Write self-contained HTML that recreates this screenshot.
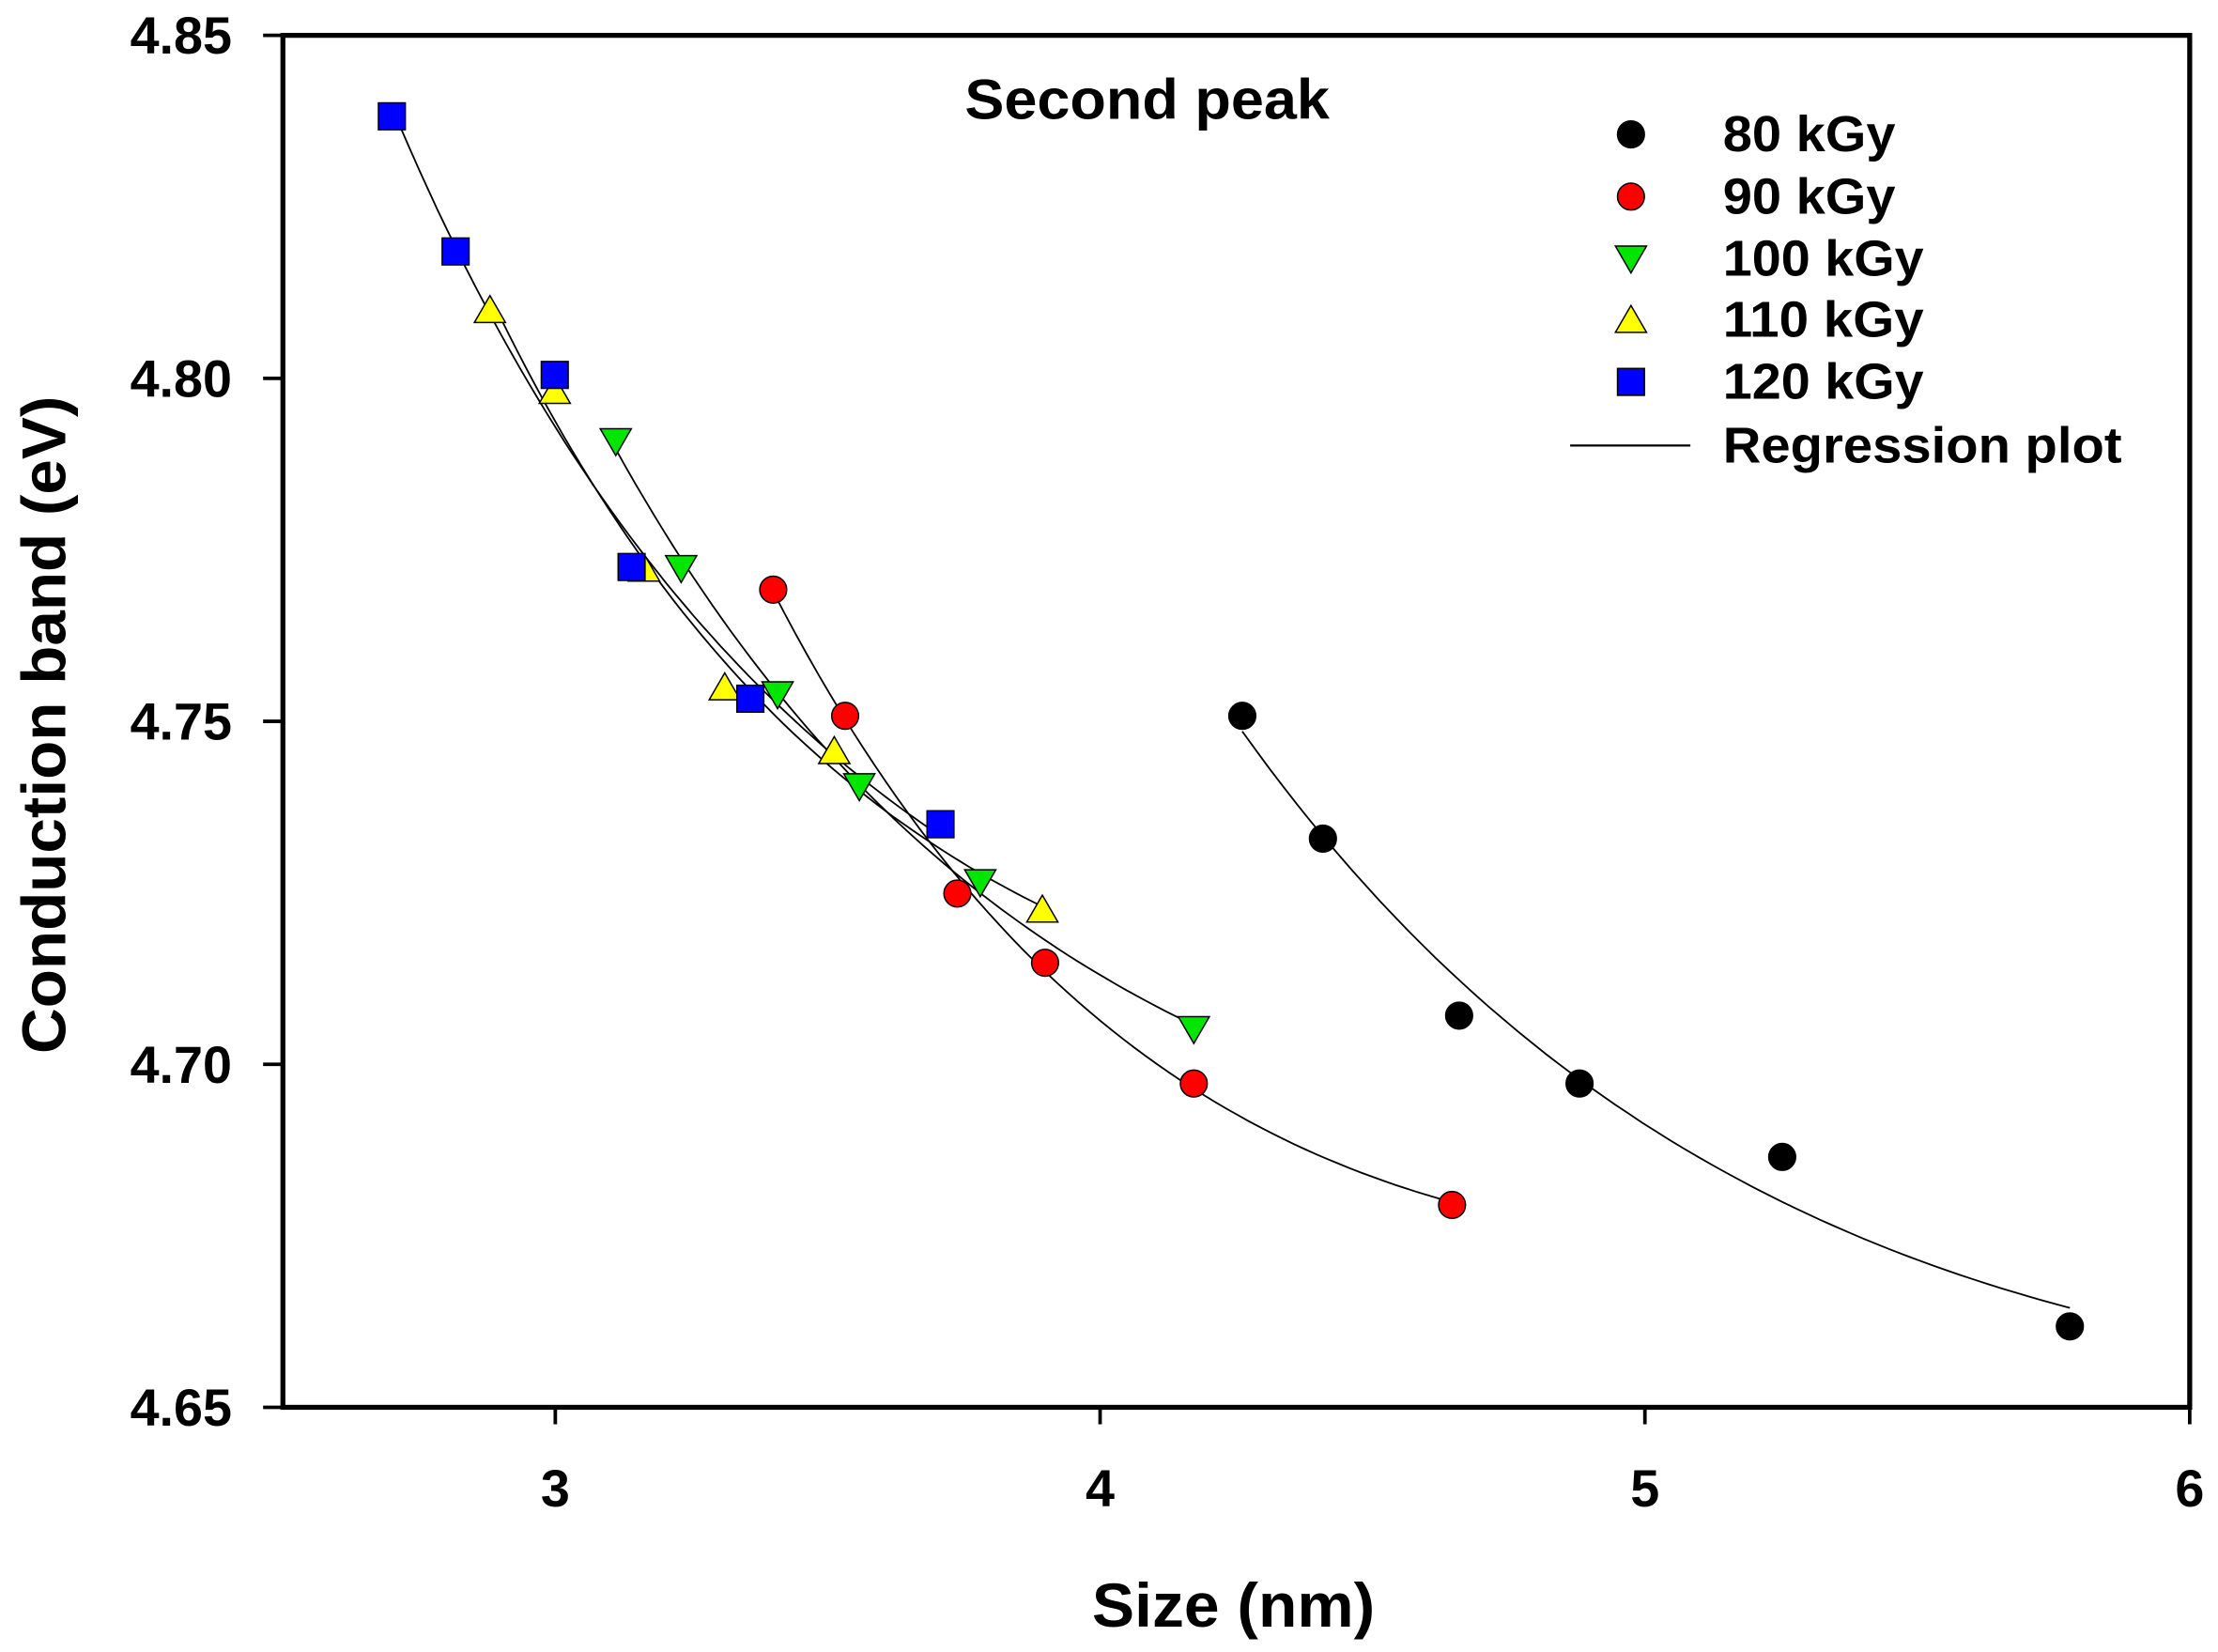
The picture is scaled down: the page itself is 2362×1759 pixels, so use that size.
<!DOCTYPE html>
<html><head><meta charset="utf-8"><style>
html,body{margin:0;padding:0;background:#fff;}
svg{display:block;font-family:"Liberation Sans",Arial,sans-serif;font-weight:bold;}
</style></head><body>
<svg id="chart" width="2362" height="1759" viewBox="0 0 1568 1168" preserveAspectRatio="none" xmlns="http://www.w3.org/2000/svg">
<g id="axes"></g>
<g id="curves"></g>
<g id="marks"></g>
<text x="682" y="84" font-size="40" textLength="258" lengthAdjust="spacingAndGlyphs">Second peak</text>
<text x="772" y="1150" font-size="44" textLength="200" lengthAdjust="spacingAndGlyphs">Size (nm)</text>
<text transform="translate(46,745) rotate(-90)" font-size="44" textLength="465" lengthAdjust="spacingAndGlyphs">Conduction band (eV)</text>
<g id="legend"></g>
</svg>
<script>
const xTicks=[3,4,5,6];
const yTicks=[4.65,4.70,4.75,4.80,4.85];
const seriesNames=["80 kGy","90 kGy","100 kGy","110 kGy","120 kGy"];
const x80=[4.261,4.409,4.659,4.880,5.252,5.780];
const y80=[4.7508,4.7329,4.7071,4.6972,4.6865,4.6618];
const x90=[3.400,3.532,3.738,3.899,4.172,4.646];
const y90=[4.7692,4.7508,4.7249,4.7148,4.6972,4.6795];
const x100=[3.111,3.231,3.408,3.558,3.780,4.172];
const y100=[4.7908,4.7723,4.7539,4.7405,4.7265,4.7051];
const x110=[2.880,2.999,3.163,3.311,3.512,3.894];
const y110=[4.8100,4.7982,4.7723,4.7550,4.7457,4.7226];
const x120=[2.700,2.817,2.999,3.140,3.358,3.707];
const y120=[4.8382,4.8185,4.8005,4.7725,4.7533,4.7350];

const NS="http://www.w3.org/2000/svg";
const L=200,R=1548,T=25,B=995,X0=2.5,X1=6,Y0=4.65,Y1=4.85;
const sx=v=>L+(v-X0)/(X1-X0)*(R-L);
const sy=v=>B-(v-Y0)/(Y1-Y0)*(B-T);
function mk(tag,attrs,parent){const e=document.createElementNS(NS,tag);for(const k in attrs)e.setAttribute(k,attrs[k]);parent.appendChild(e);return e;}
const axes=document.getElementById('axes');
let frame=mk('rect',{x:L,y:T,width:R-L,height:B-T,fill:'none',stroke:'#000','stroke-width':3.5},axes);


xTicks.forEach(t=>{
  let l=mk('line',{x1:sx(t),x2:sx(t),y1:B,y2:B+12,stroke:'#000','stroke-width':2.5},axes);
  
  
  let tx=mk('text',{x:sx(t),y:B+70,'font-size':37,'text-anchor':'middle'},axes);tx.textContent=t;
  
  
});
yTicks.forEach(t=>{
  let l=mk('line',{x1:L-14,x2:L,y1:sy(t),y2:sy(t),stroke:'#000','stroke-width':2.5},axes);
  
  
  let tx=mk('text',{x:164,y:sy(t)+13,'font-size':37,'text-anchor':'end'},axes);tx.textContent=t.toFixed(2);
  
  
});
const series=[[x80,y80,'circle','#000'],[x90,y90,'circle','#f00'],[x100,y100,'down','#00e600'],[x110,y110,'up','#ffff00'],[x120,y120,'square','#0000ff']];
function marker(shape,color,cx,cy,parent,name){
  let e;
  if(shape==='circle')e=mk('circle',{cx,cy,r:9.5,fill:color,stroke:'#000','stroke-width':1},parent);
  else if(shape==='square')e=mk('rect',{x:cx-9.5,y:cy-9.5,width:19,height:19,fill:color,stroke:'#000','stroke-width':1},parent);
  else if(shape==='down')e=mk('polygon',{points:`${cx-11},${cy-9} ${cx+11},${cy-9} ${cx},${cy+10}`,fill:color,stroke:'#000','stroke-width':1},parent);
  else e=mk('polygon',{points:`${cx-11},${cy+9} ${cx+11},${cy+9} ${cx},${cy-10}`,fill:color,stroke:'#000','stroke-width':1},parent);
  
  
  return e;
}
function fit(xs,ys){
  let S=[[0,0,0],[0,0,0],[0,0,0]],b=[0,0,0];
  xs.forEach((x,i)=>{const u=1/x,f=[1,u,u*u];for(let r=0;r<3;r++){b[r]+=f[r]*ys[i];for(let c=0;c<3;c++)S[r][c]+=f[r]*f[c];}});
  for(let i=0;i<3;i++){for(let j=i+1;j<3;j++){const m=S[j][i]/S[i][i];for(let k=i;k<3;k++)S[j][k]-=m*S[i][k];b[j]-=m*b[i];}}
  const c=[0,0,0];for(let i=2;i>=0;i--){let s=b[i];for(let k=i+1;k<3;k++)s-=S[i][k]*c[k];c[i]=s/S[i][i];}
  return x=>c[0]+c[1]/x+c[2]/(x*x);
}
const curves=document.getElementById('curves'),marks=document.getElementById('marks');
series.forEach(s=>{
  const [xs,ys]=s;const f=fit(xs,ys);
  const a=Math.min(...xs),z=Math.max(...xs);let d='';
  for(let i=0;i<=60;i++){const x=a+(z-a)*i/60;d+=(i?'L':'M')+sx(x).toFixed(1)+','+sy(f(x)).toFixed(1);}
  let p=mk('path',{d,fill:'none',stroke:'#000','stroke-width':1.2},curves);
  
  
});
series.forEach(s=>{
  const [xs,ys,shape,color]=s;
  xs.forEach((x,i)=>marker(shape,color,sx(x),sy(ys[i]),marks,'data-point'));
});
const lg=document.getElementById('legend');
const ly=[95,139,183,226,270];
const lw=[122,122,142,142,142];
series.forEach((s,i)=>{
  marker(s[2],s[3],1153,ly[i],lg,'legend-marker');
  let t=mk('text',{x:1218,y:ly[i]+12,'font-size':36,textLength:lw[i],lengthAdjust:'spacingAndGlyphs'},lg);t.textContent=seriesNames[i];
  
  
});
let ll=mk('line',{x1:1110,x2:1195,y1:315,y2:315,stroke:'#000','stroke-width':1.5},lg);


let lt=mk('text',{x:1218,y:327,'font-size':36,textLength:282,lengthAdjust:'spacingAndGlyphs'},lg);lt.textContent='Regression plot';


</script>
</body></html>
